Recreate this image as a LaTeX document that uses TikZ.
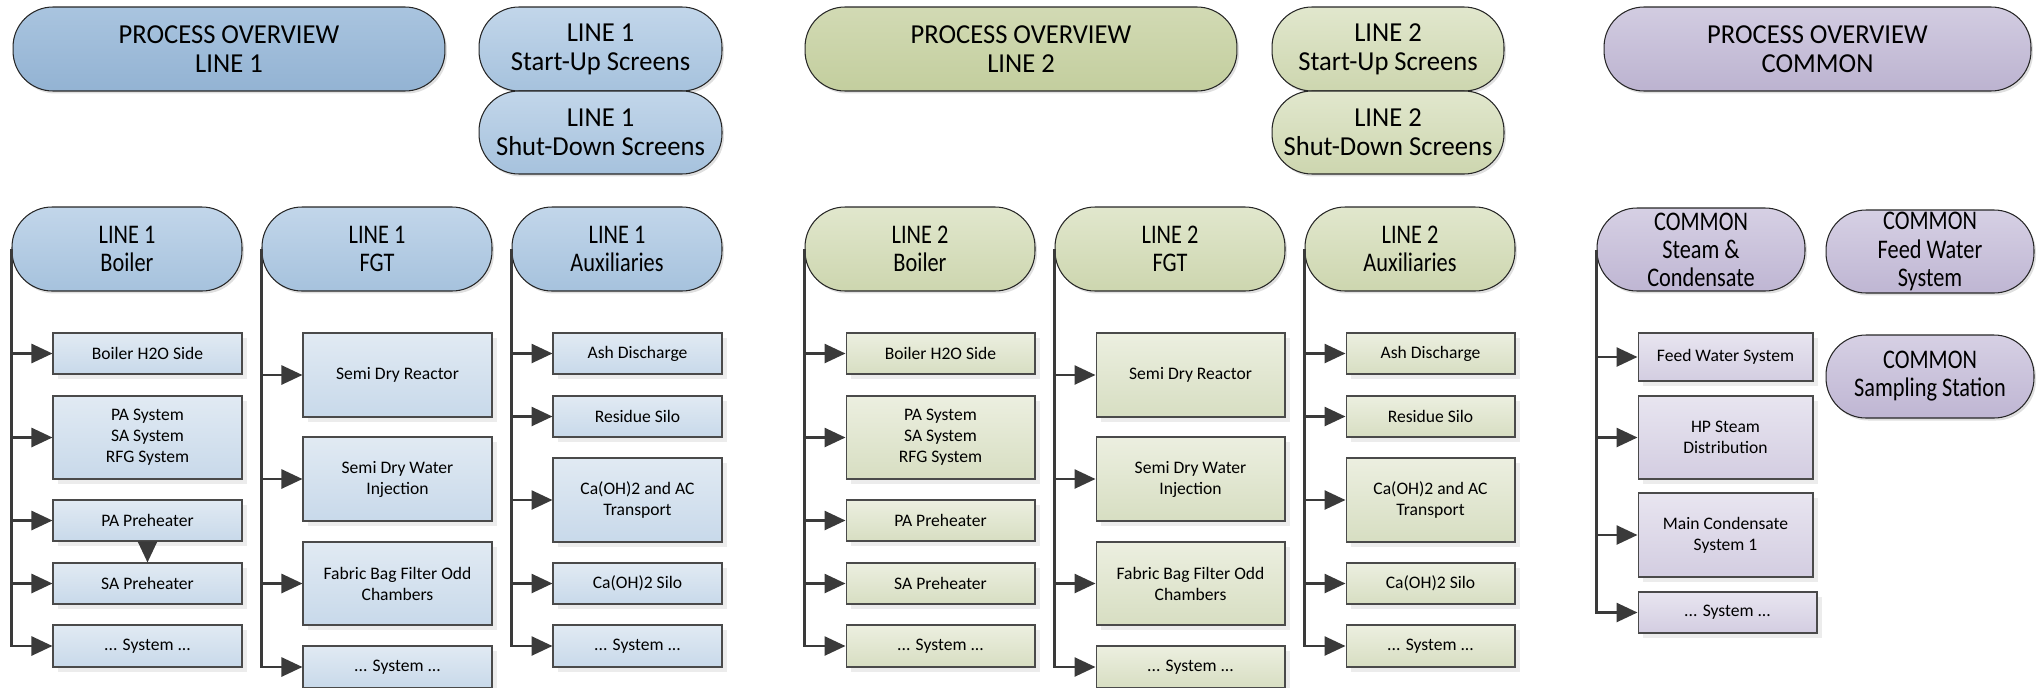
\documentclass[tikz,border=0pt]{standalone}
\usepackage{fontspec}
\setmainfont{Carlito}
\newfontfamily\headfont[FakeStretch=0.83]{Carlito}
\newfontfamily\topfont[FakeStretch=0.97]{Carlito}
\usetikzlibrary{arrows.meta, shadows}

\definecolor{ovBlueT}{HTML}{A9C4DF}
\definecolor{ovBlueB}{HTML}{93B3D3}
\definecolor{hdBlueT}{HTML}{C2D6EA}
\definecolor{hdBlueB}{HTML}{A6C2DD}
\definecolor{bxBlueT}{HTML}{E1EAF3}
\definecolor{bxBlueB}{HTML}{C8D9EA}
\definecolor{ovGreenT}{HTML}{D2DAB4}
\definecolor{ovGreenB}{HTML}{C3CE9E}
\definecolor{hdGreenT}{HTML}{E1E7CD}
\definecolor{hdGreenB}{HTML}{CDD6AF}
\definecolor{bxGreenT}{HTML}{ECEFE0}
\definecolor{bxGreenB}{HTML}{D7DEC2}
\definecolor{ovPurpT}{HTML}{D2CCE1}
\definecolor{ovPurpB}{HTML}{BCB3D0}
\definecolor{hdPurpT}{HTML}{D6D0E4}
\definecolor{hdPurpB}{HTML}{BFB6D3}
\definecolor{bxPurpT}{HTML}{E8E5F0}
\definecolor{bxPurpB}{HTML}{D3CDE1}
\definecolor{edge}{HTML}{262626}
\definecolor{boxedge}{HTML}{4A4A4A}
\definecolor{linkgray}{HTML}{3A3A3A}

\begin{document}
\begin{tikzpicture}[x=0.02cm, y=-0.02cm,
  pill/.style={draw=edge, line width=0.6pt, rounded corners=0.8cm, align=center, inner sep=0pt,
    font=\headfont\fontsize{15.3pt}{16pt}\selectfont,
    drop shadow={shadow xshift=0.04cm, shadow yshift=-0.05cm, opacity=0.25}},
  toppill/.style={pill, font=\topfont\fontsize{15.6pt}{16.4pt}\selectfont},
  box/.style={draw=boxedge, line width=0.6pt, align=center, inner sep=0pt,
    font=\fontsize{10pt}{12pt}\selectfont,
    drop shadow={shadow xshift=0.1cm, shadow yshift=-0.1cm, opacity=0.15}},
  ovblue/.style={toppill, top color=ovBlueT, bottom color=ovBlueB},
  sublue/.style={toppill, top color=hdBlueT, bottom color=hdBlueB},
  hdblue/.style={pill, top color=hdBlueT, bottom color=hdBlueB},
  bxblue/.style={box, top color=bxBlueT, bottom color=bxBlueB},
  ovgreen/.style={toppill, top color=ovGreenT, bottom color=ovGreenB},
  sugreen/.style={toppill, top color=hdGreenT, bottom color=hdGreenB},
  hdgreen/.style={pill, top color=hdGreenT, bottom color=hdGreenB},
  bxgreen/.style={box, top color=bxGreenT, bottom color=bxGreenB},
  ovpurp/.style={toppill, top color=ovPurpT, bottom color=ovPurpB},
  hdpurp/.style={pill, top color=hdPurpT, bottom color=hdPurpB},
  bxpurp/.style={box, top color=bxPurpT, bottom color=bxPurpB},
  arr/.style={draw=linkgray, line width=1.5pt, -{Triangle[length=0.42cm, width=0.38cm]}}]
\useasboundingbox (0,0) rectangle (2042,687);

% line 1
\node[ovblue, minimum width=8.64cm, minimum height=1.68cm] (ov1) at (229,49) {PROCESS OVERVIEW\\LINE 1};
\node[sublue, minimum width=4.86cm, minimum height=1.68cm] (su1) at (600.5,49) {LINE 1\\Start-Up Screens};
\node[sublue, minimum width=4.86cm, minimum height=1.66cm] (sd1) at (600.5,132.5) {LINE 1\\Shut-Down Screens};
\node[hdblue, minimum width=4.6cm, minimum height=1.68cm] (hb1) at (127,249) {LINE 1\\Boiler};
\node[hdblue, minimum width=4.6cm, minimum height=1.68cm] (hf1) at (377,249) {LINE 1\\FGT};
\node[hdblue, minimum width=4.2cm, minimum height=1.68cm] (ha1) at (617,249) {LINE 1\\Auxiliaries};

\node[bxblue, minimum width=3.78cm, minimum height=0.82cm] (b1a) at (147.5,353.5) {Boiler H2O Side};
\node[bxblue, minimum width=3.78cm, minimum height=1.66cm] (b1b) at (147.5,437.5) {PA System\\SA System\\RFG System};
\node[bxblue, minimum width=3.78cm, minimum height=0.82cm] (b1c) at (147.5,520.5) {PA Preheater};
\node[bxblue, minimum width=3.78cm, minimum height=0.82cm] (b1d) at (147.5,583.5) {SA Preheater};
\node[bxblue, minimum width=3.78cm, minimum height=0.84cm] (b1e) at (147.5,646) {... System ...};

\node[bxblue, minimum width=3.78cm, minimum height=1.68cm] (f1a) at (397.5,375) {Semi Dry Reactor};
\node[bxblue, minimum width=3.78cm, minimum height=1.68cm] (f1b) at (397.5,479) {Semi Dry Water\\Injection};
\node[bxblue, minimum width=3.78cm, minimum height=1.66cm] (f1c) at (397.5,583.5) {Fabric Bag Filter Odd\\Chambers};
\node[bxblue, minimum width=3.78cm, minimum height=0.84cm] (f1d) at (397.5,667) {... System ...};

\node[bxblue, minimum width=3.38cm, minimum height=0.82cm] (a1a) at (637.5,353.5) {Ash Discharge};
\node[bxblue, minimum width=3.38cm, minimum height=0.82cm] (a1b) at (637.5,416.5) {Residue Silo};
\node[bxblue, minimum width=3.38cm, minimum height=1.68cm] (a1c) at (637.5,500) {Ca(OH)2 and AC\\Transport};
\node[bxblue, minimum width=3.38cm, minimum height=0.82cm] (a1d) at (637.5,583.5) {Ca(OH)2 Silo};
\node[bxblue, minimum width=3.38cm, minimum height=0.84cm] (a1e) at (637.5,646) {... System ...};

% line 2
\node[ovgreen, minimum width=8.64cm, minimum height=1.68cm] (ov2) at (1021,49) {PROCESS OVERVIEW\\LINE 2};
\node[sugreen, minimum width=4.64cm, minimum height=1.68cm] (su2) at (1388,49) {LINE 2\\Start-Up Screens};
\node[sugreen, minimum width=4.64cm, minimum height=1.66cm] (sd2) at (1388,132.5) {LINE 2\\Shut-Down Screens};
\node[hdgreen, minimum width=4.6cm, minimum height=1.68cm] (hb2) at (920,249) {LINE 2\\Boiler};
\node[hdgreen, minimum width=4.6cm, minimum height=1.68cm] (hf2) at (1170,249) {LINE 2\\FGT};
\node[hdgreen, minimum width=4.2cm, minimum height=1.68cm] (ha2) at (1410,249) {LINE 2\\Auxiliaries};

\node[bxgreen, minimum width=3.78cm, minimum height=0.82cm] (b2a) at (940.5,353.5) {Boiler H2O Side};
\node[bxgreen, minimum width=3.78cm, minimum height=1.66cm] (b2b) at (940.5,437.5) {PA System\\SA System\\RFG System};
\node[bxgreen, minimum width=3.78cm, minimum height=0.82cm] (b2c) at (940.5,520.5) {PA Preheater};
\node[bxgreen, minimum width=3.78cm, minimum height=0.82cm] (b2d) at (940.5,583.5) {SA Preheater};
\node[bxgreen, minimum width=3.78cm, minimum height=0.84cm] (b2e) at (940.5,646) {... System ...};

\node[bxgreen, minimum width=3.78cm, minimum height=1.68cm] (f2a) at (1190.5,375) {Semi Dry Reactor};
\node[bxgreen, minimum width=3.78cm, minimum height=1.68cm] (f2b) at (1190.5,479) {Semi Dry Water\\Injection};
\node[bxgreen, minimum width=3.78cm, minimum height=1.66cm] (f2c) at (1190.5,583.5) {Fabric Bag Filter Odd\\Chambers};
\node[bxgreen, minimum width=3.78cm, minimum height=0.84cm] (f2d) at (1190.5,667) {... System ...};

\node[bxgreen, minimum width=3.38cm, minimum height=0.82cm] (a2a) at (1430.5,353.5) {Ash Discharge};
\node[bxgreen, minimum width=3.38cm, minimum height=0.82cm] (a2b) at (1430.5,416.5) {Residue Silo};
\node[bxgreen, minimum width=3.38cm, minimum height=1.68cm] (a2c) at (1430.5,500) {Ca(OH)2 and AC\\Transport};
\node[bxgreen, minimum width=3.38cm, minimum height=0.82cm] (a2d) at (1430.5,583.5) {Ca(OH)2 Silo};
\node[bxgreen, minimum width=3.38cm, minimum height=0.84cm] (a2e) at (1430.5,646) {... System ...};

% common
\node[ovpurp, minimum width=8.54cm, minimum height=1.68cm] (ov3) at (1817.5,49) {PROCESS OVERVIEW\\COMMON};
\node[hdpurp, minimum width=4.16cm, minimum height=1.66cm] (hc) at (1701,249.5) {COMMON\\Steam \&\\Condensate};
\node[hdpurp, minimum width=4.16cm, minimum height=1.66cm] (hw) at (1930,251.5) {COMMON\\Feed Water\\System};
\node[hdpurp, minimum width=4.16cm, minimum height=1.66cm] (hs) at (1930,376.5) {COMMON\\Sampling Station};

\node[bxpurp, minimum width=3.5cm, minimum height=0.96cm] (c1) at (1725.5,357) {Feed Water System};
\node[bxpurp, minimum width=3.5cm, minimum height=1.66cm] (c2) at (1725.5,437.5) {HP Steam\\Distribution};
\node[bxpurp, minimum width=3.5cm, minimum height=1.68cm] (c3) at (1725.5,535) {Main Condensate\\System 1};
\node[bxpurp, minimum width=3.58cm, minimum height=0.82cm] (c4) at (1727.5,612.5) {... System ...};

% links
\foreach \n in {b1a,b1b,b1c,b1d,b1e} \draw[arr] (hb1.west) |- (\n.west);
\foreach \n in {f1a,f1b,f1c,f1d} \draw[arr] (hf1.west) |- (\n.west);
\foreach \n in {a1a,a1b,a1c,a1d,a1e} \draw[arr] (ha1.west) |- (\n.west);
\draw[arr] (b1c) -- (b1d);
\foreach \n in {b2a,b2b,b2c,b2d,b2e} \draw[arr] (hb2.west) |- (\n.west);
\foreach \n in {f2a,f2b,f2c,f2d} \draw[arr] (hf2.west) |- (\n.west);
\foreach \n in {a2a,a2b,a2c,a2d,a2e} \draw[arr] (ha2.west) |- (\n.west);
\foreach \n in {c1,c2,c3,c4} \draw[arr] (hc.west) |- (\n.west);
\end{tikzpicture}
\end{document}
